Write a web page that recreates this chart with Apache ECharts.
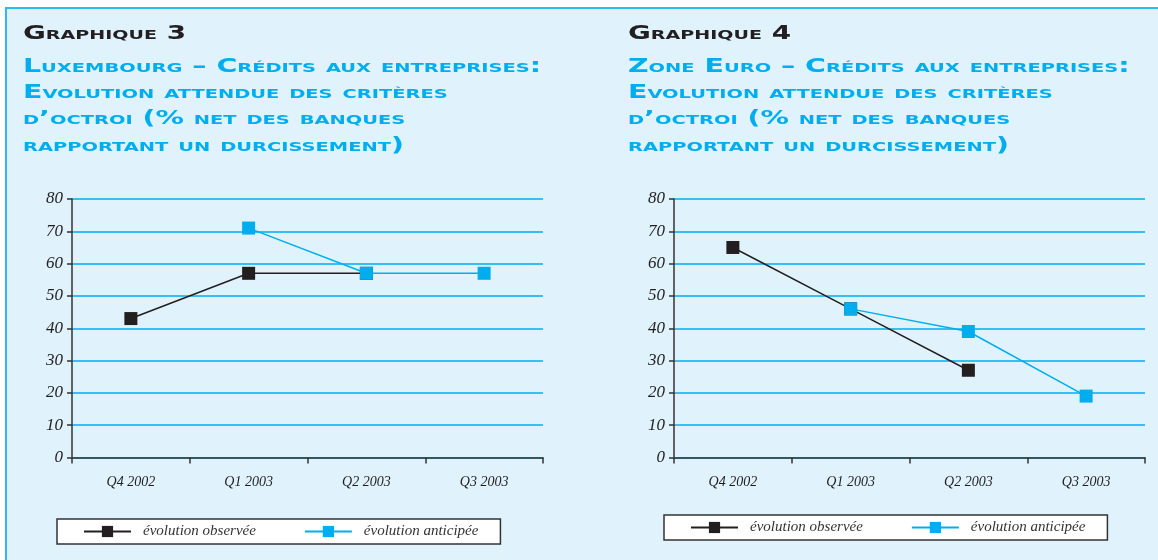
<!DOCTYPE html>
<html><head><meta charset="utf-8">
<script src="https://cdn.jsdelivr.net/npm/echarts@6/dist/echarts.min.js"></script>
<style>html,body{margin:0;padding:0;background:#fff}#c{width:1158px;height:560px}</style>
</head><body><div id="c"></div>
<script>
// ---- data ----
const categories = ['Q4 2002', 'Q1 2003', 'Q2 2003', 'Q3 2003'];
const seriesNames = ['évolution observée', 'évolution anticipée'];
const luxObserved = [43, 57, 57, null];
const luxAnticipated = [null, 71, 57, 57];
const euroObserved = [65, 46, 27, null];
const euroAnticipated = [null, 46, 39, 19];
const chartLabels = ['Graphique 3', 'Graphique 4'];
const luxTitleLines = ['Luxembourg – Crédits aux entreprises:', 'Evolution attendue des critères', 'd’octroi (% net des banques', 'rapportant un durcissement)'];
const euroTitleLines = ['Zone Euro – Crédits aux entreprises:', 'Evolution attendue des critères', 'd’octroi (% net des banques', 'rapportant un durcissement)'];
const yMin = 0, yMax = 80, yStep = 10;

// ---- styles ----
const BLACK = '#231f20', CYAN = '#00aeef', BG = '#e0f3fc';
const titleFont = 'normal small-caps bold 19px "DejaVu Sans"';
const labelFont = 'normal small-caps bold 19px "DejaVu Sans"';
const mctx = document.createElement('canvas').getContext('2d');
function textWidth(t, f) { mctx.font = f; return mctx.measureText(t).width; }
const titleScale = 518 / textWidth(luxTitleLines[0], titleFont);
const labelScale = 163 / textWidth(chartLabels[0], labelFont);

function titleGraphics(x, label, lines) {
  const els = [{ type: 'text', x: x + 1, y: 34, scaleX: labelScale, style: { text: label, font: labelFont, fill: BLACK, verticalAlign: 'middle' } }];
  const ys = [67, 93, 119, 146];
  lines.forEach((l, i) => els.push({ type: 'text', x: x + 1, y: ys[i], scaleX: titleScale, style: { text: l, font: titleFont, fill: CYAN, verticalAlign: 'middle' } }));
  return els;
}

const axisLabelY = { fontFamily: 'Liberation Serif', fontStyle: 'italic', fontSize: 17, color: BLACK, margin: 9 };
const axisLabelX = { fontFamily: 'Liberation Serif', fontStyle: 'italic', fontSize: 14, color: BLACK, margin: 18 };

function xAxis(gi) {
  return { type: 'category', gridIndex: gi, data: categories, boundaryGap: true,
    axisLine: { lineStyle: { color: '#333', width: 1.5 } },
    axisTick: { show: true, length: 6, lineStyle: { color: '#333', width: 1.5 } },
    axisLabel: axisLabelX, splitLine: { show: false } };
}
function yAxis(gi) {
  return { type: 'value', gridIndex: gi, min: yMin, max: yMax, interval: yStep,
    axisLine: { show: true, lineStyle: { color: '#333', width: 1.5 } },
    axisTick: { show: true, length: 5, lineStyle: { color: '#333', width: 1.5 } },
    axisLabel: axisLabelY,
    splitLine: { show: true, lineStyle: { color: CYAN, width: 1.5 } } };
}
function lineSeries(name, data, gi, color) {
  return { name: name, type: 'line', xAxisIndex: gi, yAxisIndex: gi, data: data,
    symbol: 'rect', symbolSize: 13, showAllSymbol: true, connectNulls: false,
    lineStyle: { color: color, width: 1.5 }, itemStyle: { color: color },
    emphasis: { disabled: true }, animation: false };
}
const legendText = { fontFamily: 'Liberation Serif', fontStyle: 'italic', fontSize: 15, color: '#333', padding: [0, 0, 0, 7] };
function legend(left, top) {
  return { data: seriesNames, left: left, top: top, orient: 'horizontal',
    backgroundColor: '#fff', borderColor: '#333', borderWidth: 1.5,
    padding: [5, 22, 5, 26], itemWidth: 47, itemHeight: 14, itemGap: 48,
    textStyle: legendText };
}

const chart = echarts.init(document.getElementById('c'), null, { renderer: 'canvas' });
chart.setOption({
  backgroundColor: '#fff',
  animation: false,
  graphic: [
    { type: 'rect', z: -100, shape: { x: 6, y: 8, width: 1300, height: 700 }, style: { fill: BG, stroke: '#2bbbee', lineWidth: 2 } },
    ...titleGraphics(22, chartLabels[0], luxTitleLines),
    ...titleGraphics(627, chartLabels[1], euroTitleLines)
  ],
  grid: [
    { left: 72, width: 471, top: 199, height: 258.5 },
    { left: 674, width: 471, top: 199, height: 258.5 }
  ],
  xAxis: [xAxis(0), xAxis(1)],
  yAxis: [yAxis(0), yAxis(1)],
  legend: [legend(57, 519), legend(664, 515)],
  series: [
    lineSeries(seriesNames[0], luxObserved, 0, BLACK),
    lineSeries(seriesNames[1], luxAnticipated, 0, CYAN),
    lineSeries(seriesNames[0], euroObserved, 1, BLACK),
    lineSeries(seriesNames[1], euroAnticipated, 1, CYAN)
  ]
});
</script></body></html>
